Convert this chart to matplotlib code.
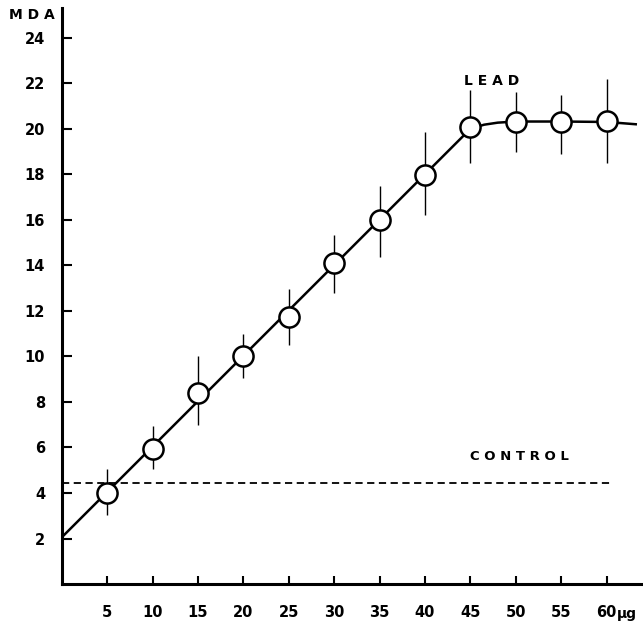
import matplotlib
matplotlib.use("Agg")
import matplotlib.pyplot as plt

# dose (ug) and MDA values
dose = [5, 10, 15, 20, 25, 30, 35, 40, 45, 50, 55, 60]
mda = [4.0, 5.95, 8.4, 10.0, 11.75, 14.1, 16.0, 17.95, 20.1, 20.3, 20.3, 20.35]
err_hi = [5.05, 6.95, 10.0, 11.0, 12.95, 15.35, 17.5, 19.85, 21.7, 21.6, 21.5, 22.2]
err_lo = [3.05, 5.05, 7.0, 9.05, 10.5, 12.8, 14.35, 16.2, 18.5, 19.0, 18.9, 18.5]

# fitted curve knots
fit_x = [0, 45, 46.5, 48, 50, 55, 60, 63.2]
fit_y = [2.05, 20.0, 20.18, 20.27, 20.32, 20.32, 20.3, 20.2]

control = 4.42
control_x = [0, 60.6]

xticks = [5, 10, 15, 20, 25, 30, 35, 40, 45, 50, 55, 60]
yticks = [2, 4, 6, 8, 10, 12, 14, 16, 18, 20, 22, 24]

fig = plt.figure(figsize=(6.43, 6.28), dpi=100)
ax = fig.add_axes([0.096, 0.07, 0.904, 0.917])

ax.plot(fit_x, fit_y, color="black", lw=1.8, zorder=2)
ax.plot(control_x, [control, control], color="black", lw=1.3,
        linestyle=(0, (4, 2.5)), zorder=1)
ax.vlines(dose, err_lo, err_hi, color="black", lw=1.0, zorder=2)
ax.plot(dose, mda, "o", ms=14.5, mfc="white", mec="black", mew=1.8, zorder=3)

ax.set_xlim(0, 64)
ax.set_ylim(0, 25.3)
ax.set_xticks(xticks)
ax.set_yticks(yticks)
ax.set_xticklabels([str(v) for v in xticks])
ax.set_yticklabels([str(v) for v in yticks])

for s in ["top", "right"]:
    ax.spines[s].set_visible(False)
for s in ["left", "bottom"]:
    ax.spines[s].set_linewidth(2.2)

ax.tick_params(axis="x", direction="in", length=6, width=1.5, pad=15,
               labelsize=10.5)
ax.tick_params(axis="y", direction="in", length=7, width=1.5, pad=12,
               labelsize=10.5)
for lab in ax.get_xticklabels() + ax.get_yticklabels():
    lab.set_fontweight("bold")

ax.text(61.1, -1.3, "\u00b5g", fontsize=10, fontweight="bold",
        ha="left", va="center", clip_on=False)
fig.text(0.014, 0.976, "M D A", fontsize=10, fontweight="bold",
         ha="left", va="center")
ax.text(44.3, 22.1, "L E A D", fontsize=10, fontweight="bold",
        ha="left", va="center")
ax.text(45.0, 5.6, "C O N T R O L", fontsize=9.5, fontweight="bold",
        ha="left", va="center")

fig.savefig("out.png", dpi=100)
